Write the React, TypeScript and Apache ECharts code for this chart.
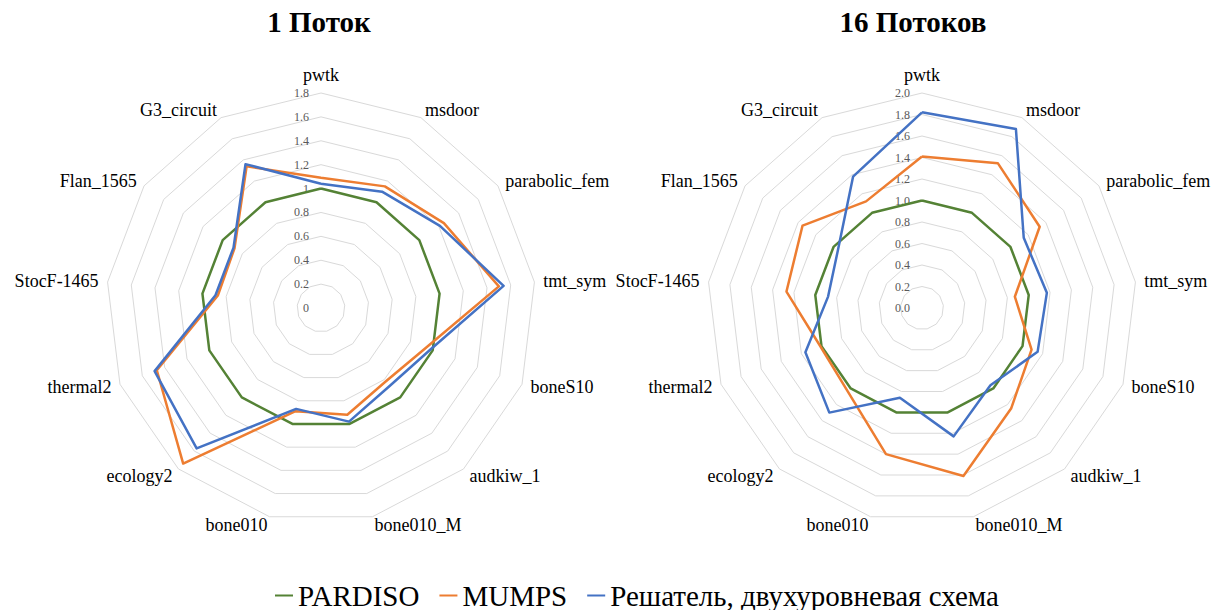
import React, { useEffect, useRef } from 'react';
import * as echarts from 'echarts';

// Indicators in visual clockwise order starting at the top
const categories = [
  'pwtk', 'msdoor', 'parabolic_fem', 'tmt_sym', 'boneS10', 'audkiw_1',
  'bone010_M', 'bone010', 'ecology2', 'thermal2', 'StocF-1465', 'Flan_1565', 'G3_circuit',
];
const seriesNames = ['PARDISO', 'MUMPS', 'Решатель, двухуровневая схема'];
const chartTitles = ['1 Поток', '16 Потоков'];

// 1 thread
const pardiso1 = [1, 1, 1, 1, 1, 1, 1, 1, 1, 1, 1, 1, 1];
const mumps1 = [1.09, 1.15, 1.25, 1.50, 0.94, 0.82, 0.92, 0.89, 1.74, 1.47, 0.87, 0.88, 1.34];
const solver1 = [1.04, 1.10, 1.21, 1.54, 0.98, 0.87, 0.98, 0.87, 1.57, 1.49, 0.89, 0.89, 1.36];

// 16 threads
const pardiso16 = [1, 1, 1, 1, 1, 1, 1, 1, 1, 1, 1, 1, 1];
const mumps16 = [1.41, 1.52, 1.33, 0.87, 1.09, 1.25, 1.61, 1.40, 1.04, 1.01, 1.27, 1.35, 1.12];
const solver16 = [1.82, 1.88, 1.15, 1.17, 1.15, 0.96, 1.23, 0.86, 1.30, 1.16, 0.88, 0.95, 1.38];

// Axis scales
const axisMax = [1.8, 2.0];
const axisSplits = [9, 10];

const colors = ['#548235', '#ED7D31', '#4472C4'];
const FONT = 'Liberation Serif';

// ECharts radar runs counter-clockwise; reorder to get clockwise layout
const reorder = <T,>(arr: T[]): T[] => [arr[0], ...arr.slice(1).reverse()];

export default function App() {
  const ref = useRef<HTMLDivElement>(null);

  useEffect(() => {
    if (!ref.current) return;
    const chart = echarts.init(ref.current, undefined, { renderer: 'svg' });

    const centers = [[321, 308], [922, 308]];
    const formatters = [
      (v: number) => String(+(+v).toFixed(1)),
      (v: number) => (+v).toFixed(1),
    ];

    const radars = [0, 1].map((ri) => ({
      center: centers[ri],
      radius: 215,
      startAngle: 90,
      shape: 'polygon',
      splitNumber: axisSplits[ri],
      nameGap: 9,
      axisName: { color: '#000', fontSize: 18, fontFamily: FONT },
      splitLine: { lineStyle: { color: '#d9d9d9', width: 1 } },
      splitArea: { show: false },
      axisLine: { show: false },
      axisTick: { show: false },
      axisLabel: {
        show: false,
        color: '#595959',
        fontSize: 12,
        fontFamily: FONT,
        margin: 12,
        formatter: formatters[ri],
      },
      indicator: reorder(categories).map((name, i) => ({
        name,
        min: 0,
        max: axisMax[ri],
        ...(i === 0 ? { axisLabel: { show: true } } : {}),
      })),
    }));

    const data = [
      [pardiso1, mumps1, solver1],
      [pardiso16, mumps16, solver16],
    ];

    const series: any[] = [];
    [0, 1].forEach((ri) => {
      seriesNames.forEach((name, si) => {
        series.push({
          type: 'radar',
          name,
          radarIndex: ri,
          symbol: 'none',
          lineStyle: { color: colors[si], width: 2.5 },
          itemStyle: { color: colors[si] },
          data: [{ value: reorder(data[ri][si]), name }],
        });
      });
    });

    chart.setOption({
      animation: false,
      backgroundColor: '#fff',
      textStyle: { fontFamily: FONT },
      title: [
        {
          text: chartTitles[0], left: 314, top: 2, textAlign: 'center',
          textStyle: { fontSize: 29, fontWeight: 'bold', fontFamily: FONT, color: '#000' },
        },
        {
          text: chartTitles[1], left: 908, top: 2, textAlign: 'center',
          textStyle: { fontSize: 29, fontWeight: 'bold', fontFamily: FONT, color: '#000' },
        },
      ],
      legend: {
        data: seriesNames,
        left: 275,
        top: 581,
        icon: 'rect',
        itemWidth: 18,
        itemHeight: 2,
        itemGap: 20,
        padding: 0,
        textStyle: { fontSize: 29, fontFamily: FONT, color: '#000' },
      },
      color: colors,
      radar: radars,
      series,
    });

    return () => chart.dispose();
  }, []);

  return (
    <div
      ref={ref}
      style={{ position: 'absolute', left: 0, top: 0, width: 1215, height: 610 }}
    />
  );
}
